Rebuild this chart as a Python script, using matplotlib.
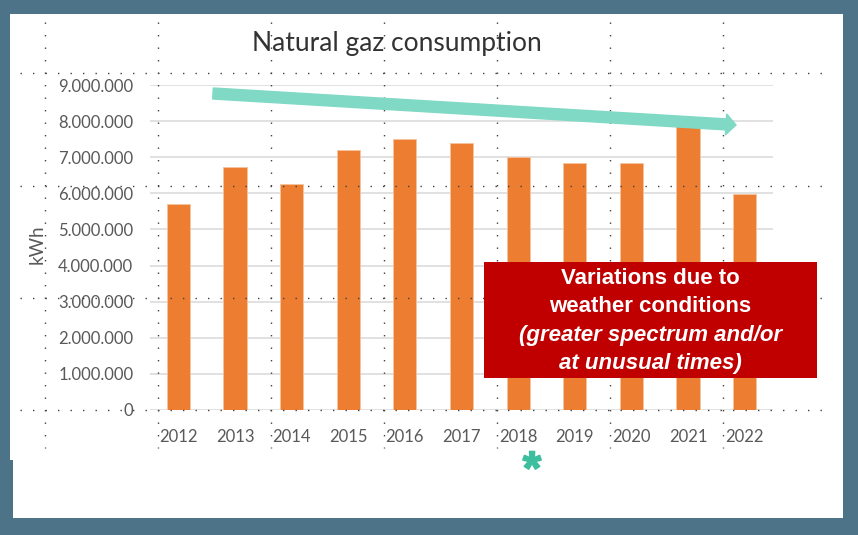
import matplotlib.pyplot as plt
import matplotlib.patches as patches
import matplotlib.patheffects as pe
import numpy as np

# data
years = ['2012', '2013', '2014', '2015', '2016', '2017', '2018', '2019', '2020', '2021', '2022']
consumption = [5700000, 6740000, 6260000, 7190000, 7510000, 7390000, 7020000, 6830000, 6830000, 7900000, 5980000]
y_ticks = [0, 1000000, 2000000, 3000000, 4000000, 5000000, 6000000, 7000000, 8000000, 9000000]

W, H = 858, 535
fig = plt.figure(figsize=(W / 100, H / 100), dpi=100)
fig.patch.set_facecolor('#4d7389')


def px(x, y):
    # pixel coords (top-left origin) -> inches for dpi_scale_trans
    return x / 100, (H - y) / 100


# white panel
for x0, y1 in [(10, 460), (13, 518)]:
    fig.patches.append(patches.Rectangle(px(x0, y1), (843 - x0) / 100, (y1 - 14) / 100,
                                         transform=fig.dpi_scale_trans, facecolor='white',
                                         edgecolor='none', zorder=-5))

ax = fig.add_axes([150 / W, 1 - 410 / H, (773 - 150) / W, (410 - 85) / H], zorder=1)
ax.set_facecolor('none')
x = np.arange(len(years))
ax.bar(x, consumption, width=0.41, color='#ed7d31', edgecolor='#f6c3a0', linewidth=0.6, zorder=2)
ax.set_xlim(-0.5, len(years) - 0.5)
ax.set_ylim(0, 9000000)
ax.set_yticks(y_ticks)
ax.set_yticklabels([f'{v:,.0f}'.replace(',', '.') for v in y_ticks])
ax.set_xticks(x)
ax.set_xticklabels(years)
ax.yaxis.grid(True, color='#d9d9d9', linewidth=1.1, zorder=0)
ax.set_axisbelow(True)
for s in ax.spines.values():
    s.set_visible(False)
ax.tick_params(axis='y', length=0, pad=12, labelsize=12, labelcolor='#595959')
ax.tick_params(axis='x', length=0, pad=14, labelsize=12, labelcolor='#595959')
for lab in ax.get_xticklabels() + ax.get_yticklabels():
    lab.set_family('Lato')

fig.text(396.5 / W, 1 - 43 / H, 'Natural gaz consumption', ha='center', va='center',
         fontsize=19, color='#333333', family='Lato')
fig.text(37.5 / W, 1 - 244 / H, 'kWh', rotation=90, ha='center', va='center',
         fontsize=13.5, color='#595959', family='Lato')

# dotted guide overlay
for yy in [73, 186, 298, 410]:
    fig.add_artist(plt.Line2D([20 / W, 823 / W], [1 - yy / H, 1 - yy / H], color='#404040',
                              linewidth=1.0, linestyle=(0, (1, 8)), zorder=5))
for xx in [45, 158, 271, 384, 497, 610, 723]:
    fig.add_artist(plt.Line2D([xx / W, xx / W], [1 - 22 / H, 1 - 448 / H], color='#404040',
                              linewidth=1.0, linestyle=(0, (1, 8)), zorder=5))

# trend arrow
sx, sy = px(213, 93.5)
ex, ey = px(736, 125)
fig.patches.append(patches.FancyArrow(sx, sy, ex - sx, ey - sy, width=0.11, head_width=0.21,
                                      head_length=0.10, length_includes_head=True,
                                      transform=fig.dpi_scale_trans, color='#80d9c5',
                                      zorder=6))

# red note box
bx, by = px(484, 378)
fig.patches.append(patches.Rectangle((bx, by), (817 - 484) / 100, (378 - 262) / 100,
                                     transform=fig.dpi_scale_trans, facecolor='#c00000',
                                     edgecolor='none', zorder=7))
lines = [('Variations due to', 'normal'), ('weather conditions', 'normal'),
         ('(greater spectrum and/or', 'italic'), ('at unusual times)', 'italic')]
for i, (t, st) in enumerate(lines):
    fig.text(650.5 / W, 1 - (278 + i * 28.5) / H, t, ha='center', va='center', fontsize=16,
             fontweight='bold', style=st, color='white', family='Liberation Sans', zorder=8)

fig.text(532 / W, 1 - 484 / H, '*', ha='center', va='baseline', fontsize=34, fontweight='bold',
         color='#3dbf9f', family='Liberation Sans',
         path_effects=[pe.withStroke(linewidth=1.2, foreground='#3dbf9f')])

fig.savefig('out.png', dpi=100, facecolor=fig.get_facecolor())
